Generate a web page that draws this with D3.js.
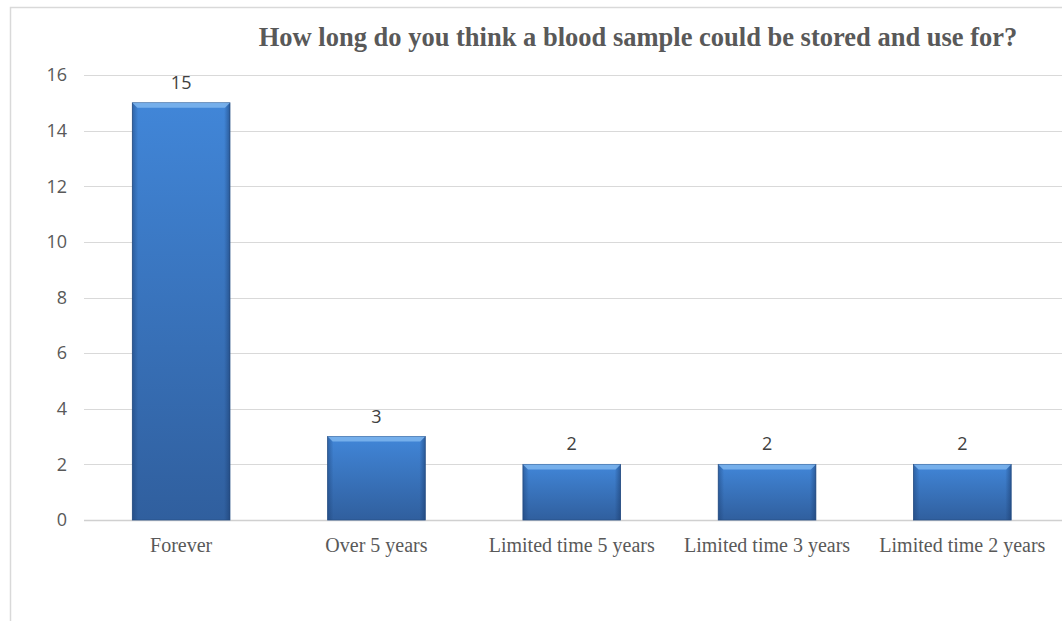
<!DOCTYPE html>
<html><head><meta charset="utf-8">
<script src="https://cdn.jsdelivr.net/npm/d3@7"></script>
<style>body{margin:0;background:#fff;} svg{display:block;}</style>
</head><body>
<script>
const categories = ["Forever","Over 5 years","Limited time 5 years","Limited time 3 years","Limited time 2 years"];
const values = [15,3,2,2,2];
const yTicks = [0,2,4,6,8,10,12,14,16];
const title = "How long do you think a blood sample could be stored and use for?";

const W = 1062, H = 621;
const svg = d3.select("body").append("svg").attr("width", W).attr("height", H);

// chart border
svg.append("rect").attr("x",10.5).attr("y",7.5).attr("width",1100).attr("height",700)
  .attr("fill","none").attr("stroke","#d9d9d9").attr("stroke-width",1.5);

const x = d3.scaleBand().domain(categories).range([83.5, 1060]).paddingInner(0.5).paddingOuter(0.25);
const y = d3.scaleLinear().domain([0,16]).range([520, 75]);

const defs = svg.append("defs");
const g1 = defs.append("linearGradient").attr("id","gv").attr("x1",0).attr("y1",0).attr("x2",0).attr("y2",1);
g1.append("stop").attr("offset","0%").attr("stop-color","#4186d8");
g1.append("stop").attr("offset","100%").attr("stop-color","#305f9e");
const g2 = defs.append("linearGradient").attr("id","gh").attr("x1",0).attr("y1",0).attr("x2",1).attr("y2",0);
g2.append("stop").attr("offset","0%").attr("stop-color","#1a3c6e").attr("stop-opacity",0.45);
g2.append("stop").attr("offset","6%").attr("stop-color","#1a3c6e").attr("stop-opacity",0);
g2.append("stop").attr("offset","94%").attr("stop-color","#1a3c6e").attr("stop-opacity",0);
g2.append("stop").attr("offset","100%").attr("stop-color","#1a3c6e").attr("stop-opacity",0.55);

// gridlines
svg.append("g").selectAll("line").data(yTicks).join("line")
  .attr("x1",84).attr("x2",1062)
  .attr("y1",d=>Math.round(y(d))+0.5).attr("y2",d=>Math.round(y(d))+0.5)
  .attr("stroke",d=>d===0?"#d0d0d0":"#d9d9d9").attr("stroke-width",d=>d===0?1.5:1);

// y axis labels
const yAxis = d3.axisLeft(y).tickValues(yTicks).tickSize(0).tickPadding(0);
const ya = svg.append("g").attr("transform","translate(67,0)").call(yAxis)
  .attr("font-family","'Open Sans', 'Noto Sans', sans-serif").attr("font-size",18);
ya.select(".domain").remove();
ya.selectAll("text").attr("fill","#595959");

// bars
const bars = svg.append("g").selectAll("g").data(values).join("g");
bars.append("rect").attr("x",(d,i)=>x(categories[i])).attr("y",d=>y(d))
  .attr("width",x.bandwidth()).attr("height",d=>y(0)-y(d)).attr("fill","url(#gv)")
  .attr("stroke","#2a5288").attr("stroke-width",0.8);
bars.append("rect").attr("x",(d,i)=>x(categories[i])).attr("y",d=>y(d))
  .attr("width",x.bandwidth()).attr("height",d=>y(0)-y(d)).attr("fill","url(#gh)");
// top bevel highlight
bars.append("polygon").attr("points",(d,i)=>{
  const x0=x(categories[i]), x1=x0+x.bandwidth(), t=y(d), b=5;
  return `${x0},${t} ${x1},${t} ${x1-b},${t+b} ${x0+b},${t+b}`;
}).attr("fill","#7fb6ee").attr("opacity",0.85);

// value labels
svg.append("g").selectAll("text").data(values).join("text")
  .attr("x",(d,i)=>x(categories[i])+x.bandwidth()/2).attr("y",d=>y(d)-14)
  .attr("text-anchor","middle").attr("font-family","'Open Sans', 'Noto Sans', sans-serif")
  .attr("font-size",18).attr("fill","#404040").text(d=>d);

// x axis labels
const xAxis = d3.axisBottom(x).tickSize(0).tickPadding(0);
const xa = svg.append("g").attr("transform","translate(0,552)").call(xAxis)
  .attr("font-family","'Liberation Serif', 'Times New Roman', serif").attr("font-size",20);
xa.select(".domain").remove();
xa.selectAll("text").attr("dy",null).attr("fill","#595959");

// title
svg.append("text").attr("x",638).attr("y",46).attr("text-anchor","middle")
  .attr("font-family","'Liberation Serif', 'Times New Roman', serif").attr("font-weight","bold")
  .attr("font-size",26.5).attr("fill","#595959").text(title);
</script>
</body></html>
